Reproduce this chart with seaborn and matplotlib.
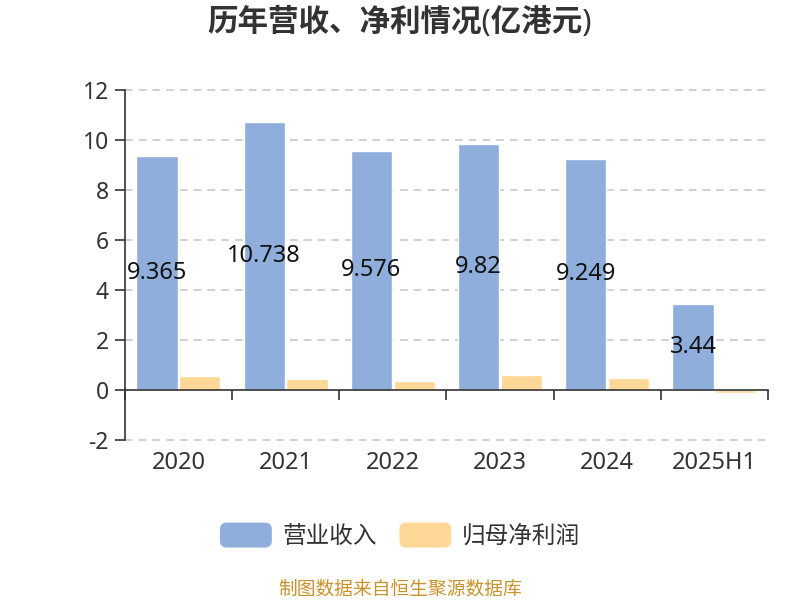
import numpy as np
import pandas as pd
import matplotlib.pyplot as plt
import seaborn as sns
from matplotlib.patches import Patch, FancyBboxPatch
from matplotlib.legend_handler import HandlerPatch

# data
years = ['2020', '2021', '2022', '2023', '2024', '2025H1']
revenue = [9.365, 10.738, 9.576, 9.82, 9.249, 3.44]
profit = [0.56, 0.44, 0.36, 0.60, 0.48, -0.13]
rev_labels = ['9.365', '10.738', '9.576', '9.82', '9.249', '3.44']
series = ['营业收入', '归母净利润']
colors = ['#8FAEDB', '#FFD796']
yticks = [-2, 0, 2, 4, 6, 8, 10, 12]

df = pd.DataFrame({
    'year': years * 2,
    'value': revenue + profit,
    'series': [series[0]] * len(years) + [series[1]] * len(years),
})

sns.set_theme(style='white')
plt.rcParams['font.family'] = ['Noto Sans', 'Noto Sans CJK SC', 'DejaVu Sans']


class RoundHandler(HandlerPatch):
    def create_artists(self, legend, orig_handle, xdescent, ydescent,
                       width, height, fontsize, trans):
        p = FancyBboxPatch((-xdescent, -ydescent), width, height,
                           boxstyle='round,pad=0,rounding_size=5',
                           facecolor=orig_handle.get_facecolor(),
                           edgecolor='none', transform=trans)
        return [p]


fig = plt.figure(figsize=(8, 6), dpi=100)
ax = fig.add_axes([0.156, 0.267, 0.804, 0.583])

sns.barplot(data=df, x='year', y='value', hue='series', palette=colors,
            width=0.8, gap=0.04, ax=ax, legend=False, saturation=1)

# revenue labels in middle of bars
ax.bar_label(ax.containers[0], labels=rev_labels, label_type='center',
             fontsize=17, color='#111111')

ax.set_xlim(-0.5, len(years) - 0.5)
ax.set_ylim(-2, 12)
ax.set_yticks(yticks)
ax.set_yticklabels([str(t) for t in yticks], fontsize=16.5, color='#333333')
ax.set_xlabel('')
ax.set_ylabel('')

for t in yticks:
    if t != 0:
        ax.axhline(t, color='#c4c4c4', linestyle=(0, (5, 4)), linewidth=1.1,
                   zorder=0, clip_on=False)

ax.spines['top'].set_visible(False)
ax.spines['right'].set_visible(False)
ax.spines['left'].set_color('#333333')
ax.spines['bottom'].set_color('#333333')
ax.spines['left'].set_linewidth(1.2)
ax.spines['bottom'].set_linewidth(1.2)
ax.spines['bottom'].set_position(('data', 0))
ax.spines['bottom'].set_zorder(5)

ax.tick_params(axis='y', length=7.5, width=1.2, color='#333333', pad=4, left=True)
ax.set_xticks(np.arange(len(years) + 1) - 0.5, minor=True)
ax.tick_params(axis='x', which='minor', length=7, width=1.2, color='#333333',
               direction='out', bottom=True)
ax.tick_params(axis='x', which='major', length=0, pad=44, labelsize=17,
               labelcolor='#333333')

fig.text(0.5, 0.963, '历年营收、净利情况(亿港元)', ha='center', va='center',
         fontsize=22, fontweight='bold', color='#333333')

handles = [Patch(facecolor=c, edgecolor='none') for c in colors]
fig.legend(handles, series, loc='center', bbox_to_anchor=(0.5, 0.107), ncol=2,
           frameon=False, fontsize=17, handlelength=2.2, handleheight=1.25,
           columnspacing=0.95, handletextpad=0.45, labelcolor='#333333',
           handler_map={Patch: RoundHandler()})

fig.text(0.5, 0.017, '制图数据来自恒生聚源数据库', ha='center', va='center',
         fontsize=13.5, color='#C8922A')

fig.savefig('out.png', dpi=100)
